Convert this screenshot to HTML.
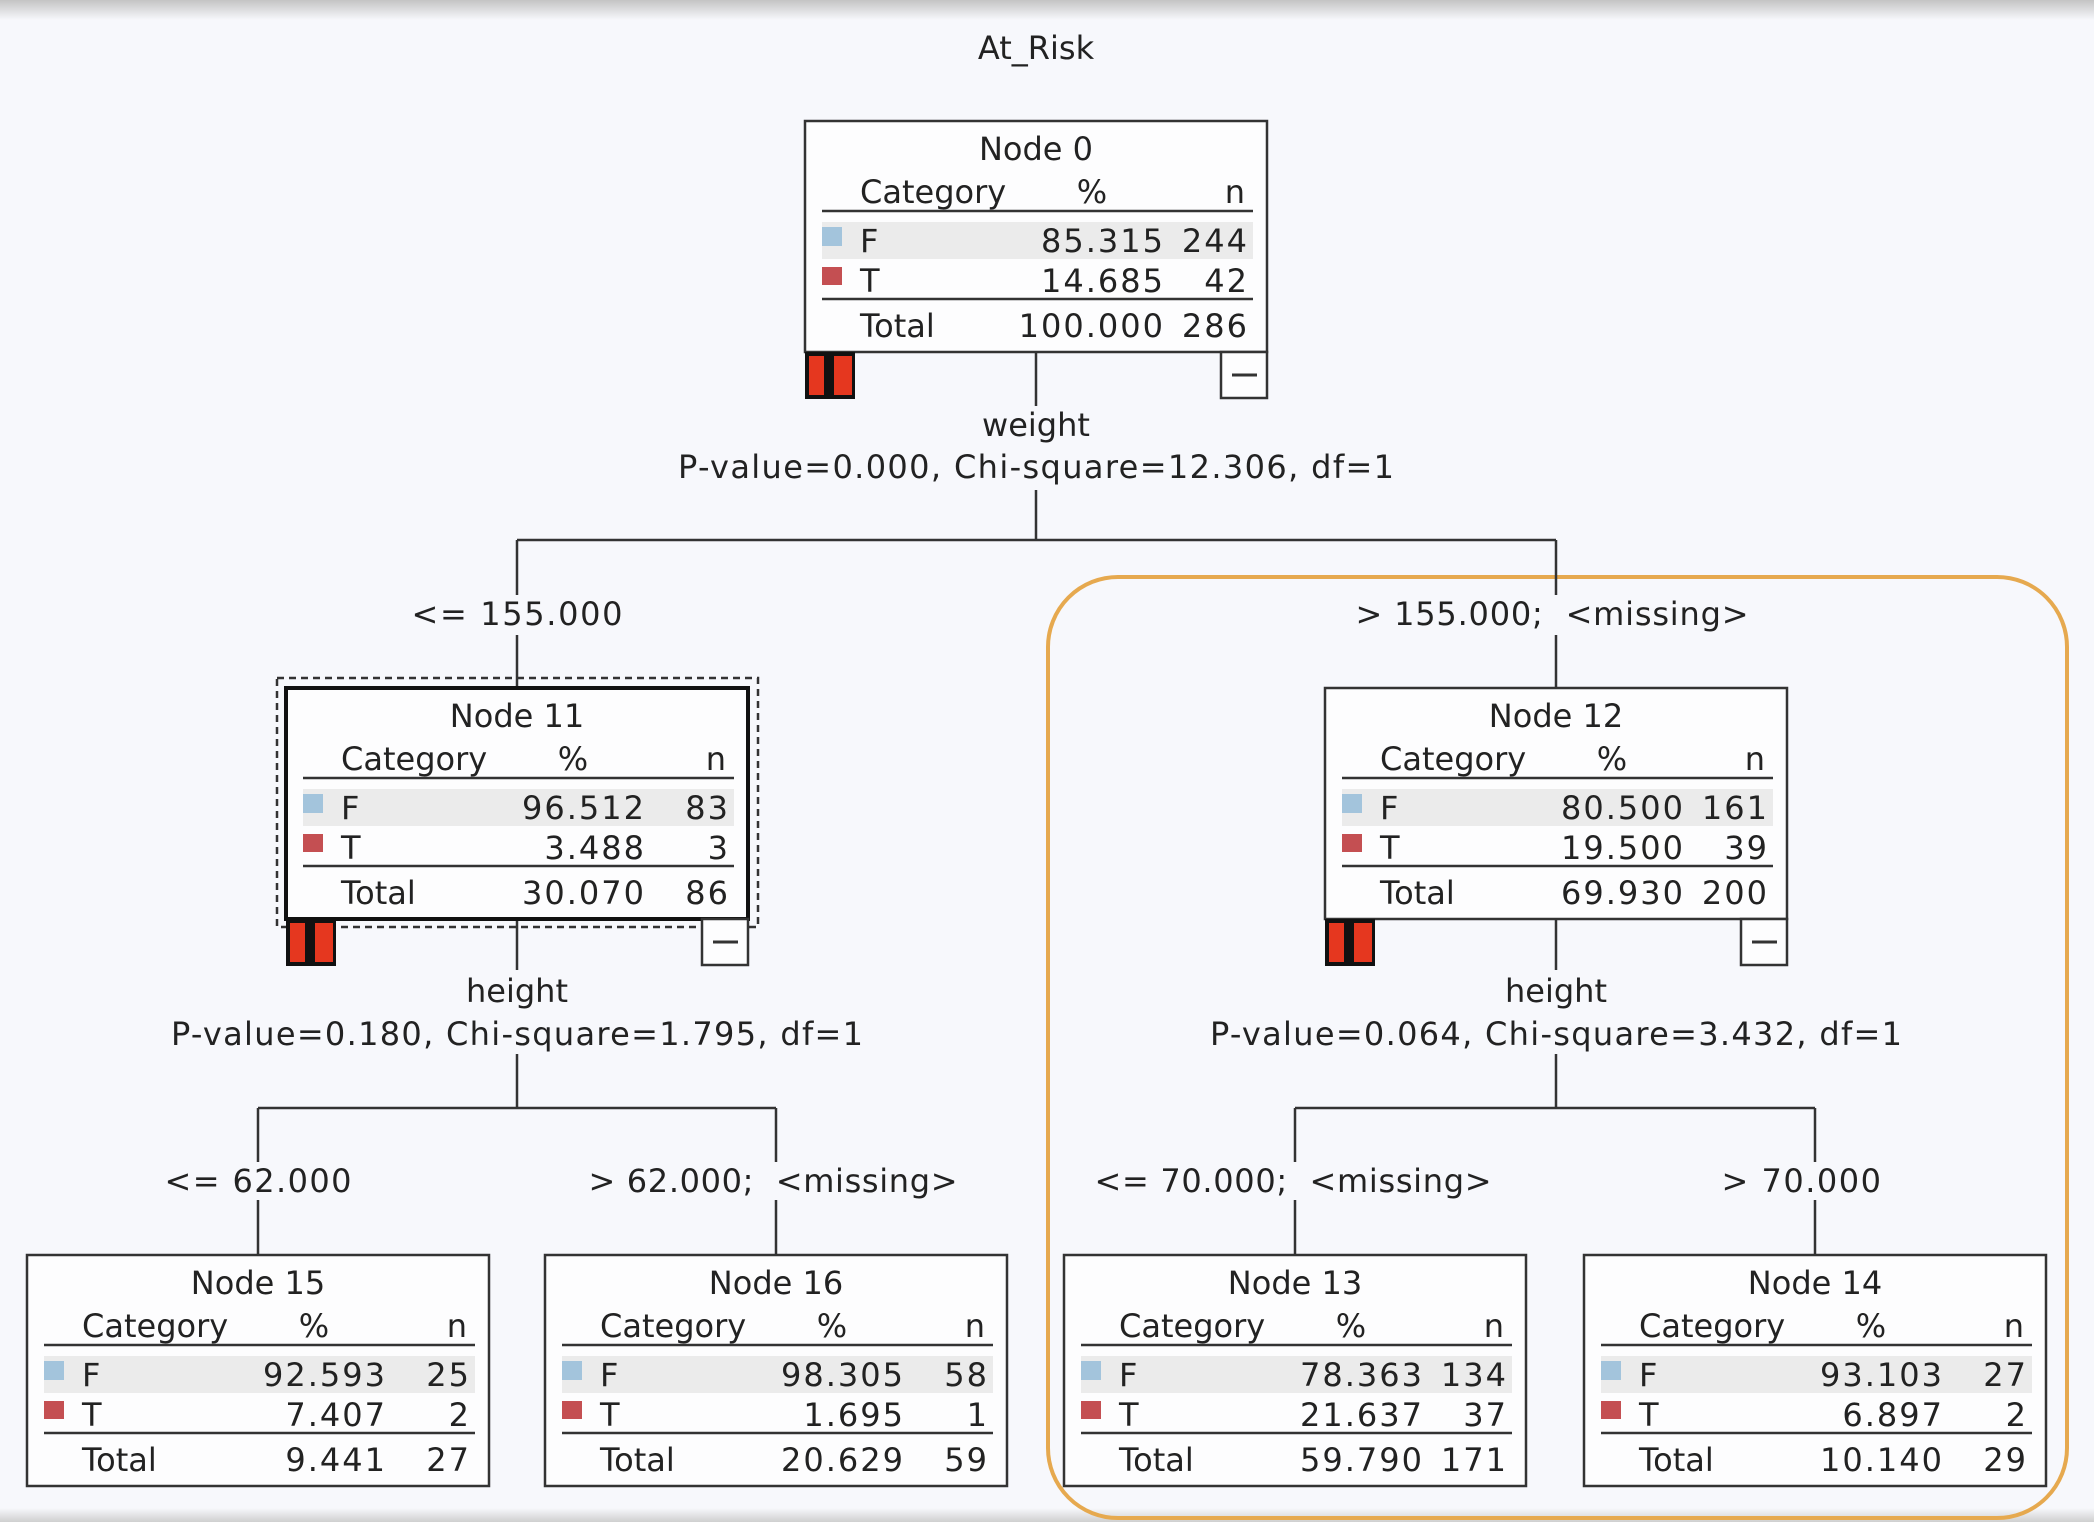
<!DOCTYPE html>
<html><head><meta charset="utf-8"><style>
html,body{margin:0;padding:0;background:#f7f8fc;}
svg{display:block;}
text{font-family:"DejaVu Sans","Liberation Sans",sans-serif;font-size:32px;fill:#222;}
.n text[text-anchor="end"]{letter-spacing:2px;}
</style></head><body>
<svg width="2094" height="1522" viewBox="0 0 2094 1522" xmlns="http://www.w3.org/2000/svg">
<defs>
<linearGradient id="tg" x1="0" y1="0" x2="0" y2="1"><stop offset="0" stop-color="#c4c4c4"/><stop offset="1" stop-color="#f7f8fc"/></linearGradient>
<linearGradient id="bg2" x1="0" y1="0" x2="0" y2="1"><stop offset="0" stop-color="#f7f8fc"/><stop offset="1" stop-color="#cfcfcf"/></linearGradient>
<g id="red"><rect x="0" y="0" width="50" height="47" fill="#111"/><rect x="4" y="4" width="15" height="39" fill="#e5371f"/><rect x="29" y="4" width="18" height="39" fill="#e5371f"/></g>
<g id="minus"><rect x="0" y="0" width="46" height="46" fill="#fdfdfe" stroke="#333" stroke-width="2.5"/><line x1="11" y1="23" x2="36" y2="23" stroke="#333" stroke-width="3"/></g>
</defs>
<rect x="0" y="0" width="2094" height="20" fill="url(#tg)"/>
<rect x="0" y="1508" width="2094" height="14" fill="url(#bg2)"/>

<text x="1036" y="59" text-anchor="middle">At_Risk</text>

<rect x="1048" y="577" width="1019" height="941" rx="70" ry="70" fill="none" stroke="#e6a94f" stroke-width="4"/>

<g stroke="#333" stroke-width="2.5" fill="none">
<line x1="1036" y1="352" x2="1036" y2="540"/>
<line x1="517" y1="540" x2="1556" y2="540"/>
<line x1="517" y1="540" x2="517" y2="688"/>
<line x1="1556" y1="540" x2="1556" y2="688"/>
<line x1="517" y1="919" x2="517" y2="1108"/>
<line x1="1556" y1="919" x2="1556" y2="1108"/>
<line x1="258" y1="1108" x2="776" y2="1108"/>
<line x1="1295" y1="1108" x2="1815" y2="1108"/>
<line x1="258" y1="1108" x2="258" y2="1255"/>
<line x1="776" y1="1108" x2="776" y2="1255"/>
<line x1="1295" y1="1108" x2="1295" y2="1255"/>
<line x1="1815" y1="1108" x2="1815" y2="1255"/>
</g>

<g fill="#f7f8fc">
<rect x="960" y="406" width="152" height="84"/>
<rect x="440" y="595" width="160" height="40"/>
<rect x="1500" y="595" width="100" height="40"/>
<rect x="460" y="970" width="120" height="84"/>
<rect x="1500" y="970" width="120" height="84"/>
<rect x="220" y="1162" width="80" height="38"/>
<rect x="740" y="1162" width="70" height="38"/>
<rect x="1270" y="1162" width="50" height="38"/>
<rect x="1780" y="1162" width="60" height="38"/>
</g>

<text x="1036" y="436" text-anchor="middle">weight</text>
<text x="1036" y="478" text-anchor="middle" textLength="716" lengthAdjust="spacing">P-value=0.000, Chi-square=12.306, df=1</text>
<text x="517" y="625" text-anchor="middle" textLength="211" lengthAdjust="spacing">&lt;= 155.000</text>
<text x="1552" y="625" text-anchor="middle" textLength="393" lengthAdjust="spacing" xml:space="preserve">&gt; 155.000;  &lt;missing&gt;</text>
<text x="517" y="1002" text-anchor="middle">height</text>
<text x="517" y="1045" text-anchor="middle" textLength="692" lengthAdjust="spacing">P-value=0.180, Chi-square=1.795, df=1</text>
<text x="1556" y="1002" text-anchor="middle">height</text>
<text x="1556" y="1045" text-anchor="middle" textLength="692" lengthAdjust="spacing">P-value=0.064, Chi-square=3.432, df=1</text>
<text x="258" y="1192" text-anchor="middle" textLength="187" lengthAdjust="spacing">&lt;= 62.000</text>
<text x="773" y="1192" text-anchor="middle" textLength="369" lengthAdjust="spacing" xml:space="preserve">&gt; 62.000;  &lt;missing&gt;</text>
<text x="1293" y="1192" text-anchor="middle" textLength="397" lengthAdjust="spacing" xml:space="preserve">&lt;= 70.000;  &lt;missing&gt;</text>
<text x="1802" y="1192" text-anchor="middle" style="letter-spacing:1.5px">&gt; 70.000</text>

<g class="n" transform="translate(805,121)">
<rect width="462" height="231" fill="#fdfdfe" stroke="#333" stroke-width="2.5"/>
<rect x="17" y="101" width="431" height="37" fill="#ebebeb"/>
<text x="231" y="39" text-anchor="middle">Node 0</text>
<text x="55" y="82">Category</text><text x="287" y="82" text-anchor="middle">%</text><text x="442" y="82" text-anchor="end">n</text>
<line x1="17" y1="90" x2="448" y2="90" stroke="#333" stroke-width="2.5"/>
<rect x="17" y="106" width="20" height="19" fill="#a3c4dc"/>
<text x="55" y="131">F</text><text x="360" y="131" text-anchor="end">85.315</text><text x="444" y="131" text-anchor="end">244</text>
<rect x="17" y="146" width="20" height="18" fill="#c44f52"/>
<text x="55" y="171">T</text><text x="360" y="171" text-anchor="end">14.685</text><text x="444" y="171" text-anchor="end">42</text>
<line x1="17" y1="178" x2="448" y2="178" stroke="#333" stroke-width="2.5"/>
<text x="55" y="216">Total</text><text x="360" y="216" text-anchor="end">100.000</text><text x="444" y="216" text-anchor="end">286</text>
<use href="#red" x="0" y="231"/><use href="#minus" x="416" y="231"/>
</g>

<rect x="277" y="678" width="481" height="249" fill="none" stroke="#333" stroke-width="2.5" stroke-dasharray="7,5"/>
<g class="n" transform="translate(286,688)">
<rect width="462" height="231" fill="#fdfdfe" stroke="#111" stroke-width="4"/>
<rect x="17" y="101" width="431" height="37" fill="#ebebeb"/>
<text x="231" y="39" text-anchor="middle">Node 11</text>
<text x="55" y="82">Category</text><text x="287" y="82" text-anchor="middle">%</text><text x="442" y="82" text-anchor="end">n</text>
<line x1="17" y1="90" x2="448" y2="90" stroke="#333" stroke-width="2.5"/>
<rect x="17" y="106" width="20" height="19" fill="#a3c4dc"/>
<text x="55" y="131">F</text><text x="360" y="131" text-anchor="end">96.512</text><text x="444" y="131" text-anchor="end">83</text>
<rect x="17" y="146" width="20" height="18" fill="#c44f52"/>
<text x="55" y="171">T</text><text x="360" y="171" text-anchor="end">3.488</text><text x="444" y="171" text-anchor="end">3</text>
<line x1="17" y1="178" x2="448" y2="178" stroke="#333" stroke-width="2.5"/>
<text x="55" y="216">Total</text><text x="360" y="216" text-anchor="end">30.070</text><text x="444" y="216" text-anchor="end">86</text>
<use href="#red" x="0" y="231"/><use href="#minus" x="416" y="231"/>
</g>

<g class="n" transform="translate(1325,688)">
<rect width="462" height="231" fill="#fdfdfe" stroke="#333" stroke-width="2.5"/>
<rect x="17" y="101" width="431" height="37" fill="#ebebeb"/>
<text x="231" y="39" text-anchor="middle">Node 12</text>
<text x="55" y="82">Category</text><text x="287" y="82" text-anchor="middle">%</text><text x="442" y="82" text-anchor="end">n</text>
<line x1="17" y1="90" x2="448" y2="90" stroke="#333" stroke-width="2.5"/>
<rect x="17" y="106" width="20" height="19" fill="#a3c4dc"/>
<text x="55" y="131">F</text><text x="360" y="131" text-anchor="end">80.500</text><text x="444" y="131" text-anchor="end">161</text>
<rect x="17" y="146" width="20" height="18" fill="#c44f52"/>
<text x="55" y="171">T</text><text x="360" y="171" text-anchor="end">19.500</text><text x="444" y="171" text-anchor="end">39</text>
<line x1="17" y1="178" x2="448" y2="178" stroke="#333" stroke-width="2.5"/>
<text x="55" y="216">Total</text><text x="360" y="216" text-anchor="end">69.930</text><text x="444" y="216" text-anchor="end">200</text>
<use href="#red" x="0" y="231"/><use href="#minus" x="416" y="231"/>
</g>

<g class="n" transform="translate(27,1255)">
<rect width="462" height="231" fill="#fdfdfe" stroke="#333" stroke-width="2.5"/>
<rect x="17" y="101" width="431" height="37" fill="#ebebeb"/>
<text x="231" y="39" text-anchor="middle">Node 15</text>
<text x="55" y="82">Category</text><text x="287" y="82" text-anchor="middle">%</text><text x="442" y="82" text-anchor="end">n</text>
<line x1="17" y1="90" x2="448" y2="90" stroke="#333" stroke-width="2.5"/>
<rect x="17" y="106" width="20" height="19" fill="#a3c4dc"/>
<text x="55" y="131">F</text><text x="360" y="131" text-anchor="end">92.593</text><text x="444" y="131" text-anchor="end">25</text>
<rect x="17" y="146" width="20" height="18" fill="#c44f52"/>
<text x="55" y="171">T</text><text x="360" y="171" text-anchor="end">7.407</text><text x="444" y="171" text-anchor="end">2</text>
<line x1="17" y1="178" x2="448" y2="178" stroke="#333" stroke-width="2.5"/>
<text x="55" y="216">Total</text><text x="360" y="216" text-anchor="end">9.441</text><text x="444" y="216" text-anchor="end">27</text>
</g>

<g class="n" transform="translate(545,1255)">
<rect width="462" height="231" fill="#fdfdfe" stroke="#333" stroke-width="2.5"/>
<rect x="17" y="101" width="431" height="37" fill="#ebebeb"/>
<text x="231" y="39" text-anchor="middle">Node 16</text>
<text x="55" y="82">Category</text><text x="287" y="82" text-anchor="middle">%</text><text x="442" y="82" text-anchor="end">n</text>
<line x1="17" y1="90" x2="448" y2="90" stroke="#333" stroke-width="2.5"/>
<rect x="17" y="106" width="20" height="19" fill="#a3c4dc"/>
<text x="55" y="131">F</text><text x="360" y="131" text-anchor="end">98.305</text><text x="444" y="131" text-anchor="end">58</text>
<rect x="17" y="146" width="20" height="18" fill="#c44f52"/>
<text x="55" y="171">T</text><text x="360" y="171" text-anchor="end">1.695</text><text x="444" y="171" text-anchor="end">1</text>
<line x1="17" y1="178" x2="448" y2="178" stroke="#333" stroke-width="2.5"/>
<text x="55" y="216">Total</text><text x="360" y="216" text-anchor="end">20.629</text><text x="444" y="216" text-anchor="end">59</text>
</g>

<g class="n" transform="translate(1064,1255)">
<rect width="462" height="231" fill="#fdfdfe" stroke="#333" stroke-width="2.5"/>
<rect x="17" y="101" width="431" height="37" fill="#ebebeb"/>
<text x="231" y="39" text-anchor="middle">Node 13</text>
<text x="55" y="82">Category</text><text x="287" y="82" text-anchor="middle">%</text><text x="442" y="82" text-anchor="end">n</text>
<line x1="17" y1="90" x2="448" y2="90" stroke="#333" stroke-width="2.5"/>
<rect x="17" y="106" width="20" height="19" fill="#a3c4dc"/>
<text x="55" y="131">F</text><text x="360" y="131" text-anchor="end">78.363</text><text x="444" y="131" text-anchor="end">134</text>
<rect x="17" y="146" width="20" height="18" fill="#c44f52"/>
<text x="55" y="171">T</text><text x="360" y="171" text-anchor="end">21.637</text><text x="444" y="171" text-anchor="end">37</text>
<line x1="17" y1="178" x2="448" y2="178" stroke="#333" stroke-width="2.5"/>
<text x="55" y="216">Total</text><text x="360" y="216" text-anchor="end">59.790</text><text x="444" y="216" text-anchor="end">171</text>
</g>

<g class="n" transform="translate(1584,1255)">
<rect width="462" height="231" fill="#fdfdfe" stroke="#333" stroke-width="2.5"/>
<rect x="17" y="101" width="431" height="37" fill="#ebebeb"/>
<text x="231" y="39" text-anchor="middle">Node 14</text>
<text x="55" y="82">Category</text><text x="287" y="82" text-anchor="middle">%</text><text x="442" y="82" text-anchor="end">n</text>
<line x1="17" y1="90" x2="448" y2="90" stroke="#333" stroke-width="2.5"/>
<rect x="17" y="106" width="20" height="19" fill="#a3c4dc"/>
<text x="55" y="131">F</text><text x="360" y="131" text-anchor="end">93.103</text><text x="444" y="131" text-anchor="end">27</text>
<rect x="17" y="146" width="20" height="18" fill="#c44f52"/>
<text x="55" y="171">T</text><text x="360" y="171" text-anchor="end">6.897</text><text x="444" y="171" text-anchor="end">2</text>
<line x1="17" y1="178" x2="448" y2="178" stroke="#333" stroke-width="2.5"/>
<text x="55" y="216">Total</text><text x="360" y="216" text-anchor="end">10.140</text><text x="444" y="216" text-anchor="end">29</text>
</g>
</svg>
</body></html>
